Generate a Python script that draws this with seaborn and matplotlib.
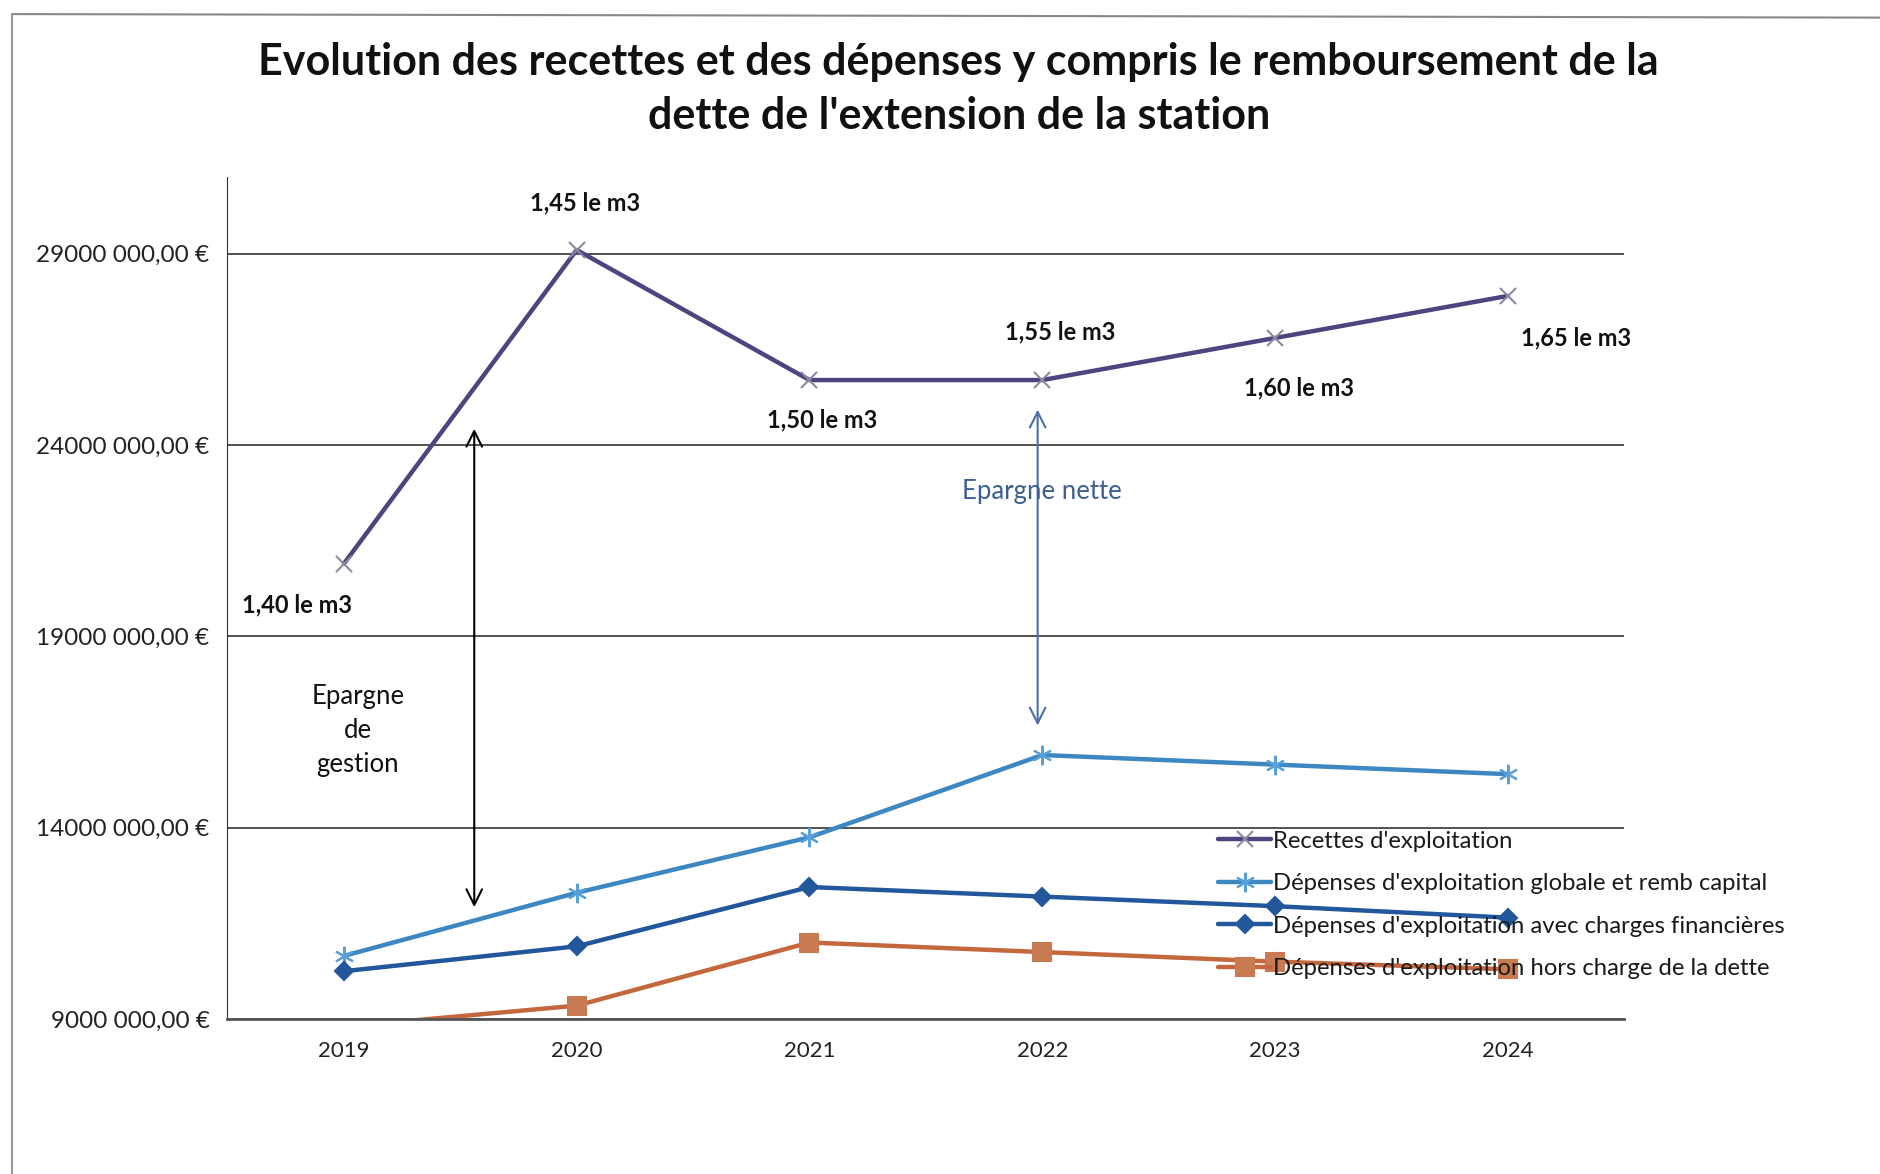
import numpy as np
import pandas as pd
import matplotlib
matplotlib.use('Agg')
import matplotlib.pyplot as plt
import seaborn as sns
from matplotlib.lines import Line2D

# data
years = [2019, 2020, 2021, 2022, 2023, 2024]
recettes = [20.9e6, 29.1e6, 25.7e6, 25.7e6, 26.8e6, 27.9e6]
dep_globale = [10.65e6, 12.3e6, 13.75e6, 15.9e6, 15.65e6, 15.4e6]
dep_charges_fin = [10.25e6, 10.9e6, 12.45e6, 12.2e6, 11.95e6, 11.65e6]
dep_hors_dette = [8.8e6, 9.35e6, 11.0e6, 10.75e6, 10.5e6, 10.3e6]
series_names = ["Recettes d'exploitation",
                "Dépenses d'exploitation globale et remb capital",
                "Dépenses d'exploitation avec charges financières",
                "Dépenses d'exploitation hors charge de la dette"]
prix_labels = ["1,40 le m3", "1,45 le m3", "1,50 le m3", "1,55 le m3", "1,60 le m3", "1,65 le m3"]
yticks = [9e6, 14e6, 19e6, 24e6, 29e6]
ytick_labels = ["9000 000,00 €", "14000 000,00 €", "19000 000,00 €", "24000 000,00 €", "29000 000,00 €"]

df = pd.DataFrame({"annee": years * 4,
                   "montant": recettes + dep_globale + dep_charges_fin + dep_hors_dette,
                   "serie": [n for n in series_names for _ in years]})

sns.set_style("white")
plt.rcParams['font.family'] = ['Lato', 'DejaVu Sans']

colors = ['#4d4480', '#3d87c2', '#22579c', '#c4673c']
markers = ['x', (6, 2, 0), 'D', 's']
msizes = [11, 14, 9, 13]
mcolors = ['#8a8aa0', '#5aa0d8', '#22579c', '#c87a52']
ymin, ymax = 9e6, 31e6

fig = plt.figure(figsize=(18.8, 11.74), dpi=100)
ax = fig.add_axes([0.121, 0.132, 0.743, 0.717])

for name, c, m, ms, mc in zip(series_names, colors, markers, msizes, mcolors):
    sub = df[df.serie == name]
    # comme Excel : pas de marqueur pour les points sous l'axe
    visible = [i for i, v in enumerate(sub.montant) if v >= ymin]
    sns.lineplot(data=sub, x="annee", y="montant", ax=ax,
                 color=c, lw=3.2, marker=m, markersize=ms, markeredgecolor=mc,
                 markerfacecolor=mc, markeredgewidth=1.5, markevery=visible, label=name)

ax.set_xlim(2018.5, 2024.5)
ax.set_ylim(ymin, ymax)
ax.set_yticks(yticks)
ax.set_yticklabels(ytick_labels, fontsize=17.5, color='#222222')
ax.set_xticks(years)
ax.set_xticklabels([str(y) for y in years], fontsize=16, color='#222222')
ax.set_xticks(np.arange(2018.5, 2025, 1), minor=True)
ax.tick_params(axis='x', which='major', length=0, pad=16)
ax.tick_params(axis='x', which='minor', length=7, direction='out', color='#333333')
ax.tick_params(axis='y', length=7, direction='out', color='#333333', pad=6)
ax.set_xlabel('')
ax.set_ylabel('')
ax.grid(axis='y', color='#222222', lw=1.1)
for s in ['top', 'right']:
    ax.spines[s].set_visible(False)
ax.spines['left'].set_color('#333333')
ax.spines['bottom'].set_color('#555555')
ax.spines['bottom'].set_linewidth(2)

# prix du m3 au-dessus / en dessous des recettes
offsets = [(-34, -30), (6, 34), (9, -29), (13, 35), (17, -36), (49, -30)]
for yr, v, lab, off in zip(years, recettes, prix_labels, offsets):
    ax.annotate(lab, xy=(yr, v), xytext=off, textcoords='offset points',
                ha='center', va='center', fontsize=17, fontweight='bold', color='#111111')

# fleches d'epargne
ax.annotate('', xy=(2019.56, 24.5e6), xytext=(2019.56, 11.85e6),
            arrowprops=dict(arrowstyle='<->', color='black', lw=1.5, mutation_scale=28))
ax.text(2019.06, 16.55e6, "Epargne\nde\ngestion", ha='center', va='center',
        fontsize=18.5, linespacing=1.45, color='#111111')
ax.annotate('', xy=(2021.98, 25.0e6), xytext=(2021.98, 16.6e6),
            arrowprops=dict(arrowstyle='<->', color='#4a6fa8', lw=1.5, mutation_scale=28))
ax.text(2022.0, 22.8e6, "Epargne nette", ha='center', va='center',
        fontsize=18.5, color='#3d5f92')

leg = ax.legend(loc='upper left', bbox_to_anchor=(0.7026, 0.235), frameon=False,
                fontsize=17.2, handlelength=2.2, handletextpad=0.1, labelspacing=0.9,
                borderaxespad=0)
for t in leg.get_texts():
    t.set_color('#1a1a1a')

fig.suptitle("Evolution des recettes et des dépenses y compris le remboursement de la\n"
             "dette de l'extension de la station",
             x=0.51, y=0.964, fontsize=31, fontweight='bold', linespacing=1.41, color='#111111')

# cadre du graphique scanne
fig.add_artist(Line2D([0.0064, 1.0], [0.988, 0.985], transform=fig.transFigure, color='#888888', lw=1.5))
fig.add_artist(Line2D([0.0064, 0.0064], [0.0, 0.988], transform=fig.transFigure, color='#999999', lw=1.5))

fig.savefig("out.png", dpi=100)
